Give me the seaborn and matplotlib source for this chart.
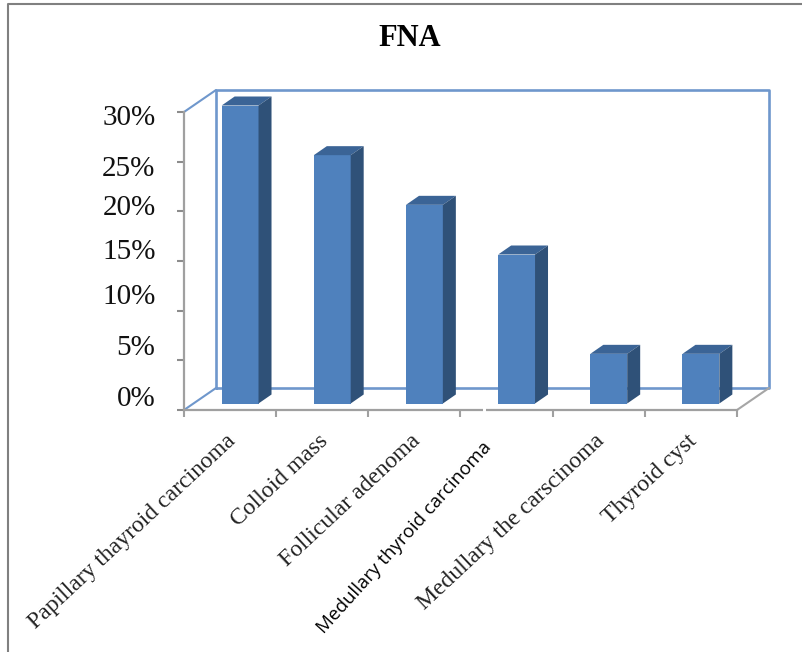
import pandas as pd
import seaborn as sns
import matplotlib.pyplot as plt
from matplotlib.lines import Line2D
from matplotlib.patches import Polygon, Rectangle
from matplotlib.transforms import Affine2D, IdentityTransform

# values
categories = ['Papillary thayroid carcinoma', 'Colloid mass', 'Follicular adenoma',
              'Medullary thyroid carcinoma', 'Medullary the carscinoma', 'Thyroid cyst']
percent = [30, 25, 20, 15, 5, 5]
y_ticks = [0, 5, 10, 15, 20, 25, 30]
y_labels = ['0%', '5%', '10%', '15%', '20%', '25%', '30%']

# y tick labels sit away from their ticks in the source (pixels, up is positive)
y_label_shift = [14, 15, 17, 12, 6, -4, -3]
W, H = 802, 652

sns.set_style('white')
plt.rcParams['font.family'] = ['Liberation Serif', 'DejaVu Serif']

fig = plt.figure(figsize=(W / 100, H / 100), dpi=100)
ax = fig.add_axes([184 / W, 1 - 410 / H, (737 - 184) / W, (410 - 112) / H])
ax.patch.set_visible(False)

df = pd.DataFrame({'type': categories, 'pct': percent})
sns.barplot(data=df, x='type', y='pct', color='#4F81BD', saturation=1, width=0.4,
            linewidth=0, edgecolor='none', ax=ax, zorder=4)
ax.set_xlim(-0.5, 5.5)
ax.set_ylim(0, 30)
ax.set_xlabel('')
ax.set_ylabel('')

# 3D look: shift the front faces into the box, then add top and side
front = Affine2D().translate(10, 6.5)
depth = (13, 9)
for p in ax.patches:
    (x0, y0), (x1, y1) = ax.transData.transform([(p.get_x(), 0), (p.get_x() + p.get_width(), p.get_height())])
    x0, x1 = x0 + 10, x1 + 10
    y0, y1 = y0 + 6.5, y1 + 6.5
    p.set_transform(ax.transData + front)
    p.set_clip_on(False)
    ax.add_patch(Polygon([(x0, y1), (x1, y1), (x1 + depth[0], y1 + depth[1]), (x0 + depth[0], y1 + depth[1])],
                         transform=IdentityTransform(), fc='#3B6496', ec='none', clip_on=False, zorder=4))
    ax.add_patch(Polygon([(x1, y0), (x1, y1), (x1 + depth[0], y1 + depth[1]), (x1 + depth[0], y0 + depth[1])],
                         transform=IdentityTransform(), fc='#2F5178', ec='none', clip_on=False, zorder=4))

# back wall and the lines going to it
wall = '#6F97CC'
back = ax.transData + Affine2D().translate(32, 22)
ax.plot([-0.5, -0.5, 5.5, 5.5, -0.5], [0, 30, 30, 0, 0], color=wall, lw=1.9, transform=back, clip_on=False, zorder=1)
(lx, by), (rx, ty) = ax.transData.transform([(-0.5, 0), (5.5, 30)])
for xs, ys, c in [([lx, lx + 32], [ty, ty + 22], wall), ([lx, lx + 32], [by, by + 22], wall),
                  ([rx, rx + 32], [by, by + 22], '#A6A6A6')]:
    ax.add_line(Line2D(xs, ys, color=c, lw=1.5, transform=IdentityTransform(), clip_on=False, zorder=1))

# axes
sns.despine(ax=ax)
for s in ['left', 'bottom']:
    ax.spines[s].set_color('#A0A0A0')
    ax.spines[s].set_linewidth(1.6)
ax.set_yticks(y_ticks)
ax.set_yticklabels(y_labels, fontsize=21, color='#111111')
ax.tick_params(axis='y', length=5, width=1.5, color='#8C8C8C', pad=15.5, left=True)
for lab, dy in zip(ax.get_yticklabels(), y_label_shift):
    lab.set_transform(lab.get_transform() + Affine2D().translate(0, dy))

ax.set_xticks([i - 0.5 for i in range(7)])
ax.set_xticklabels([])
ax.set_xticks(range(6), minor=True)
ax.set_xticklabels(categories, minor=True, rotation=43, ha='right', va='center',
                   rotation_mode='anchor', fontsize=17, color='#222222')
ax.tick_params(axis='x', which='major', length=5, width=1.5, color='#A0A0A0', bottom=True)
ax.tick_params(axis='x', which='minor', length=0, pad=20.4, bottom=True)
labs = ax.get_xticklabels(minor=True)
for lab in labs:
    lab.set_transform(lab.get_transform() + Affine2D().translate(3, 0))
# this label was pasted in with another font
labs[3].set_fontfamily('Open Sans')
labs[3].set_fontsize(13.5)
labs[3].set_rotation(48)
labs[3].set_color('black')
labs[3].set_transform(labs[3].get_transform() + Affine2D().translate(-21, -6))

# small nick in the axis under the pasted label
ax.add_patch(Rectangle((2.745, -0.4), 0.03, 0.8, fc='white', ec='none', clip_on=False, zorder=5))

# title and the outer frame, open on the right
fig.text(410 / W, 1 - 39 / H, 'FNA', fontsize=22, fontweight='bold', ha='center', va='center', color='black')
fig.add_artist(Line2D([8 / W, 8 / W, 1], [0, 1 - 4 / H, 1 - 4 / H], color='#808080', lw=1.5))

fig.savefig('out.png', dpi=100)
